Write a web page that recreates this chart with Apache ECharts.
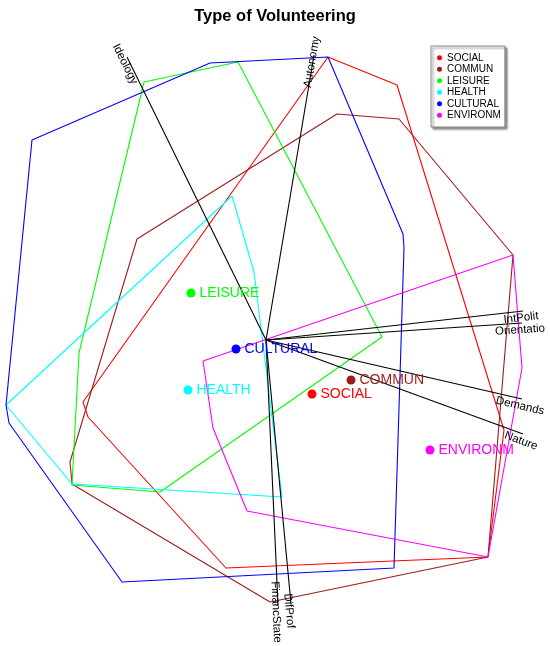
<!DOCTYPE html>
<html>
<head>
<meta charset="utf-8">
<script src="https://cdn.jsdelivr.net/npm/echarts@6/dist/echarts.min.js"></script>
<style>html,body{margin:0;padding:0;background:#fff}#chart{width:550px;height:646px}</style>
</head>
<body>
<div id="chart"></div>
<script>
// ---- data (biplot coordinates) ----
const groups = ['SOCIAL', 'COMMUN', 'LEISURE', 'HEALTH', 'CULTURAL', 'ENVIRONM'];
const groupColors = ['#FF0000', '#9E1B1B', '#00FF00', '#00FFFF', '#0000FF', '#FF00FF'];

const hullSOCIAL = [[0.62, 2.83], [1.31, 2.55], [2.38, -0.90], [2.22, -2.17], [-0.40, -2.28], [-1.78, -0.77], [-1.83, -0.62]];
const hullCOMMUN = [[0.71, 2.26], [1.33, 2.21], [2.47, 0.85], [2.22, -2.17], [0.04, -2.62], [-1.94, -1.44], [-1.96, -1.22], [-1.29, 1.01]];
const hullLEISURE = [[-0.28, 2.78], [1.16, 0.03], [-1.06, -1.52], [-1.94, -1.45], [-1.87, -0.13], [-1.22, 2.58]];
const hullHEALTH = [[-0.34, 1.44], [-0.12, 0.68], [0.16, -1.57], [-1.94, -1.44], [-2.60, -0.65]];
const hullCULTURAL = [[0.62, 2.83], [1.37, 1.06], [1.38, 0.92], [1.28, -2.28], [-1.44, -2.42], [-2.57, -0.83], [-2.60, -0.65], [-2.34, 2.00], [-0.56, 2.77]];
const hullENVIRONM = [[-0.63, -0.21], [2.47, 0.85], [2.56, -0.28], [2.22, -2.17], [-0.19, -1.71], [-0.53, -0.88]];

const centroidX = [0.46, 0.85, -0.75, -0.78, -0.30, 1.64];
const centroidY = [-0.54, -0.40, 0.47, -0.50, -0.09, -1.10];

const variables = ['Ideology', 'Autonomy', 'IntPolit', 'Orientatio', 'Demands', 'Nature', 'FinancState', 'DifProf'];
const varX = [-1.39, 0.48, 2.57, 2.56, 2.56, 2.57, 0.12, 0.25];
const varY = [2.83, 2.85, 0.29, 0.17, -0.59, -0.94, -2.65, -2.64];

// ---- chart ----
const hulls = [hullSOCIAL, hullCOMMUN, hullLEISURE, hullHEALTH, hullCULTURAL, hullENVIRONM];
const FONT = '"Liberation Sans", Arial, Helvetica, sans-serif';
const series = [];

hulls.forEach((h, i) => {
  series.push({
    name: groups[i] + ' hull',
    type: 'line',
    data: h.concat([h[0]]),
    symbol: 'none',
    silent: true,
    clip: false,
    lineStyle: { color: groupColors[i], width: 1.1 },
    z: 2
  });
});

variables.forEach((v, i) => {
  series.push({
    name: v,
    type: 'line',
    data: [[0, 0], [varX[i], varY[i]]],
    symbol: 'none',
    silent: true,
    clip: false,
    lineStyle: { color: '#000', width: 1.1 },
    z: 3
  });
});

groups.forEach((g, i) => {
  series.push({
    name: g,
    type: 'scatter',
    data: [[centroidX[i], centroidY[i]]],
    symbol: 'circle',
    symbolSize: 9,
    itemStyle: { color: groupColors[i], opacity: 1 },
    label: {
      show: true,
      position: 'right',
      distance: 4,
      formatter: g,
      color: groupColors[i],
      fontFamily: FONT,
      fontSize: 14
    },
    z: 5
  });
});

const chart = echarts.init(document.getElementById('chart'), null, { renderer: 'canvas' });
chart.setOption({
  animation: false,
  backgroundColor: '#fff',
  title: {
    text: 'Type of Volunteering',
    left: 'center',
    top: 3,
    textStyle: { fontFamily: FONT, fontSize: 16.5, fontWeight: 'bold', color: '#000' }
  },
  legend: {
    orient: 'vertical',
    left: 431,
    top: 46,
    data: groups.map(g => ({ name: g, icon: 'circle' })),
    itemWidth: 5,
    itemHeight: 5,
    itemGap: 0,
    padding: [6, 4, 6, 6],
    backgroundColor: '#fff',
    borderColor: '#8a8a8a',
    borderWidth: 1,
    shadowColor: 'rgba(0,0,0,0.45)',
    shadowBlur: 2,
    shadowOffsetX: 2,
    shadowOffsetY: 2,
    selectedMode: false,
    textStyle: { fontFamily: FONT, fontSize: 10, color: '#000', lineHeight: 11.5 }
  },
  grid: { left: 0, right: 0, top: 0, bottom: 0, containLabel: false },
  xAxis: { type: 'value', min: -2.66, max: 2.84, show: false, splitLine: { show: false } },
  yAxis: { type: 'value', min: -3.06, max: 3.40, show: false, splitLine: { show: false } },
  series: series
});

// variable labels, rotated along their vectors
const origin = chart.convertToPixel({ gridIndex: 0 }, [0, 0]);
const texts = variables.map((v, i) => {
  const p = chart.convertToPixel({ gridIndex: 0 }, [varX[i], varY[i]]);
  let ang = Math.atan2(-(p[1] - origin[1]), p[0] - origin[0]) * 180 / Math.PI;
  if (ang > 90) ang -= 180;
  if (ang < -90) ang += 180;
  return {
    type: 'text',
    x: p[0] - 2,
    y: p[1] + 7,
    rotation: ang * Math.PI / 180,
    z: 10,
    style: {
      text: v,
      fill: '#000',
      font: '11.5px ' + FONT,
      align: 'center',
      verticalAlign: 'middle'
    }
  };
});
chart.setOption({ graphic: texts });
</script>
</body>
</html>
